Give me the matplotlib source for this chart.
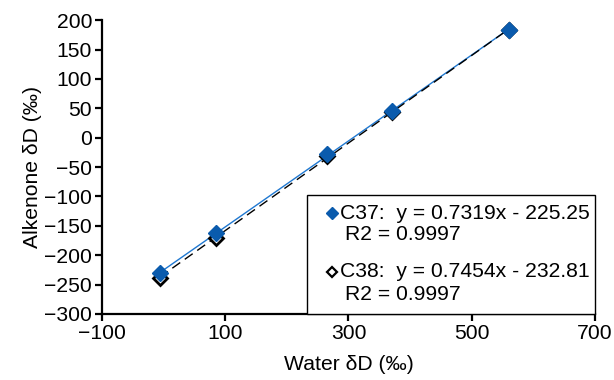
import matplotlib
matplotlib.use("Agg")
import matplotlib.pyplot as plt
import numpy as np
from matplotlib.patches import Rectangle

plt.rcParams['font.family'] = ['Liberation Sans', 'DejaVu Sans']

# water dD (permil) and alkenone dD for each chain length
water_dD = [-6, 85, 266, 370, 561]
c37_dD = [-231, -163, -28, 46, 183]
c38_dD = [-239, -171, -31, 44, 183]

# regression coefficients as printed on the chart
c37_fit = (0.7319, -225.25)
c38_fit = (0.7454, -232.81)
c37_label = ["C37:  y = 0.7319x - 225.25", "R2 = 0.9997"]
c38_label = ["C38:  y = 0.7454x - 232.81", "R2 = 0.9997"]

x_ticks = [-100, 100, 300, 500, 700]
y_ticks = list(range(-300, 201, 50))

blue_mark = "#0a5bad"
blue_line = "#1f78d1"
fs = 15.2

fig = plt.figure(figsize=(6.14, 3.8), dpi=100)
ax = fig.add_axes([0.166, 0.174, 0.803, 0.773])

xs = np.array([min(water_dD), max(water_dD)])
ax.plot(xs, c37_fit[0] * xs + c37_fit[1], color=blue_line, lw=1.0, zorder=2)
ax.plot(xs, c38_fit[0] * xs + c38_fit[1], color="black", lw=1.0,
        dashes=(7, 4), zorder=3)
ax.plot(water_dD, c38_dD, ls="none", marker="D", ms=7, mfc="white",
        mec="black", mew=2, zorder=4)
ax.plot(water_dD, c37_dD, ls="none", marker="D", ms=8, mfc=blue_mark,
        mec=blue_mark, mew=1, zorder=5)

ax.set_xlim(-100, 700)
ax.set_ylim(-300, 200)
ax.set_xticks(x_ticks)
ax.set_yticks(y_ticks)
ax.set_xticklabels([str(t).replace("-", "\u2212") for t in x_ticks])
ax.set_yticklabels([str(t).replace("-", "\u2212") for t in y_ticks])
for side in ("top", "right"):
    ax.spines[side].set_visible(False)
for side in ("left", "bottom"):
    ax.spines[side].set_linewidth(1.6)
ax.tick_params(direction="out", length=5, width=1.6, labelsize=fs, pad=2)

ax.set_xlabel("Water \u03b4D (\u2030)", fontsize=fs, labelpad=9)
ax.set_ylabel("Alkenone \u03b4D (\u2030)", fontsize=fs, labelpad=2)

# legend box drawn by hand so the marker sits on the first line
ax.add_patch(Rectangle((0.416, 0.0), 0.584, 0.405, transform=ax.transAxes,
                       fill=True, fc="white", ec="black", lw=1.0,
                       clip_on=False, zorder=6))
ax.plot([0.466], [0.3425], transform=ax.transAxes, marker="D", ms=6,
        mfc=blue_mark, mec=blue_mark, clip_on=False, zorder=7)
ax.plot([0.466], [0.144], transform=ax.transAxes, marker="D", ms=5,
        mfc="white", mec="black", mew=1.6, clip_on=False, zorder=7)
ax.text(0.483, 0.3425, c37_label[0], transform=ax.transAxes, fontsize=fs,
        va="center", zorder=7)
ax.text(0.493, 0.269, c37_label[1], transform=ax.transAxes, fontsize=fs,
        va="center", zorder=7)
ax.text(0.483, 0.144, c38_label[0], transform=ax.transAxes, fontsize=fs,
        va="center", zorder=7)
ax.text(0.493, 0.065, c38_label[1], transform=ax.transAxes, fontsize=fs,
        va="center", zorder=7)

fig.savefig("out.png", dpi=100)
